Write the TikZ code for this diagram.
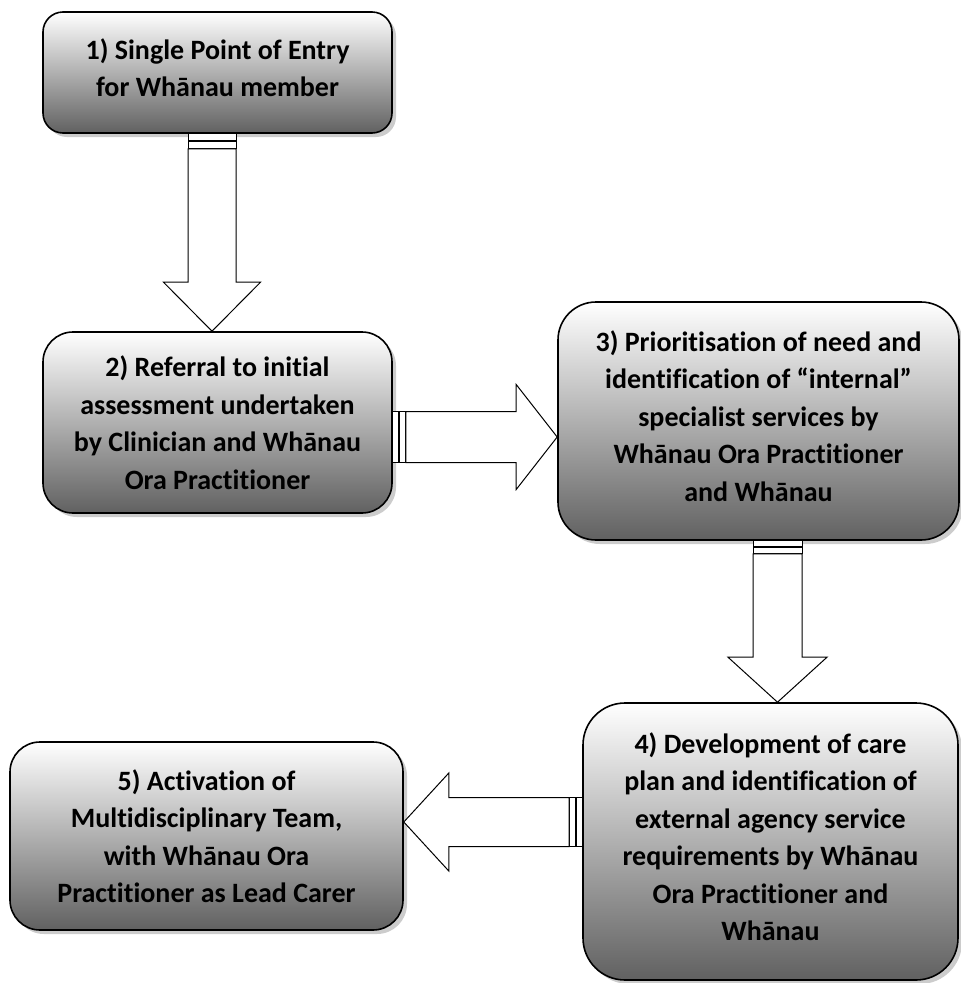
\documentclass[tikz,border=0pt]{standalone}
\usepackage{fontspec}
\setmainfont{Carlito}[Ligatures=NoCommon]
\usetikzlibrary{calc,shadows}
\begin{document}
\begin{tikzpicture}[x=1pt, y=-1pt,
        caixa/.style={shape=rectangle, draw=black, line width=1.6pt, align=center,
            top color=white, bottom color=black!62, inner sep=0pt,
            font=\fontsize{28}{37.5}\selectfont\bfseries,
            drop shadow={shadow xshift=4pt, shadow yshift=-4pt, fill=black!40}},
        sobe/.style={execute at end node={\rule[-10pt]{0pt}{0pt}}},
        seta/.style={draw=black, fill=white, line width=1pt, line join=miter},
        faixa/.style={draw=black, fill=white, line width=0.8pt},
    ]
    \useasboundingbox (0,0) rectangle (961,983);

    \node[caixa, sobe, rounded corners=20pt, minimum width=349pt, minimum height=121pt] (p1) at (217.5, 72.5)
        {1) Single Point of Entry\\for Whānau member};
    \node[caixa, rounded corners=30pt, minimum width=349pt, minimum height=181pt] (p2) at (217.5, 422.5)
        {2) Referral to initial\\assessment undertaken\\by Clinician and Whānau\\Ora Practitioner};
    \node[caixa, sobe, rounded corners=38pt, minimum width=401pt, minimum height=238pt] (p3) at (758.5, 421)
        {3) Prioritisation of need and\\identification of “internal”\\specialist services by\\Whānau Ora Practitioner\\and Whānau};
    \node[caixa, sobe, rounded corners=42pt, minimum width=375pt, minimum height=277pt] (p4) at (770.5, 841.5)
        {4) Development of care\\plan and identification of\\external agency service\\requirements by Whānau\\Ora Practitioner and\\Whānau};
    \node[caixa, rounded corners=30pt, minimum width=393pt, minimum height=188pt] (p5) at (206.5, 836)
        {5) Activation of\\Multidisciplinary Team,\\with Whānau Ora\\Practitioner as Lead Carer};

    % setas
    \coordinate (a1) at ($(p1.south)+(-5.5,0)$);
    \coordinate (b1) at (p2.north -| a1);
    \draw[faixa] ($(a1)+(-24,0)$) rectangle ($(a1)+(24,7)$);
    \draw[faixa] ($(a1)+(-24,8)$) rectangle ($(a1)+(24,15)$);
    \draw[seta] ($(a1)+(-24,15)$) -- ($(b1)+(-24,-49)$) -- ($(b1)+(-48.5,-49)$) -- (b1)
        -- ($(b1)+(48.5,-49)$) -- ($(b1)+(24,-49)$) -- ($(a1)+(24,15)$) -- cycle;

    \coordinate (a2) at ($(p2.east)+(0,14.5)$);
    \coordinate (b2) at (p3.west |- a2);
    \draw[faixa] ($(a2)+(0,-25.5)$) rectangle ($(a2)+(6,25.5)$);
    \draw[faixa] ($(a2)+(7,-25.5)$) rectangle ($(a2)+(13,25.5)$);
    \draw[seta] ($(a2)+(13,-25.5)$) -- ($(b2)+(-41,-25.5)$) -- ($(b2)+(-41,-52.5)$) -- (b2)
        -- ($(b2)+(-41,52.5)$) -- ($(b2)+(-41,25.5)$) -- ($(a2)+(13,25.5)$) -- cycle;

    \coordinate (a3) at ($(p3.south)+(19,0)$);
    \coordinate (b3) at (p4.north -| a3);
    \draw[faixa] ($(a3)+(-24.5,0)$) rectangle ($(a3)+(24.5,6)$);
    \draw[faixa] ($(a3)+(-24.5,7)$) rectangle ($(a3)+(24.5,13)$);
    \draw[seta] ($(a3)+(-24.5,13)$) -- ($(b3)+(-24.5,-45)$) -- ($(b3)+(-49.5,-45)$) -- (b3)
        -- ($(b3)+(49.5,-45)$) -- ($(b3)+(24.5,-45)$) -- ($(a3)+(24.5,13)$) -- cycle;

    \coordinate (a4) at ($(p4.west)+(0,-19.5)$);
    \coordinate (b4) at (p5.east |- a4);
    \draw[faixa] ($(a4)+(0,-24.5)$) rectangle ($(a4)+(-6,24.5)$);
    \draw[faixa] ($(a4)+(-7,-24.5)$) rectangle ($(a4)+(-13,24.5)$);
    \draw[seta] ($(a4)+(-13,-24.5)$) -- ($(b4)+(45,-24.5)$) -- ($(b4)+(45,-49)$) -- (b4)
        -- ($(b4)+(45,49)$) -- ($(b4)+(45,24.5)$) -- ($(a4)+(-13,24.5)$) -- cycle;

\end{tikzpicture}
\end{document}
